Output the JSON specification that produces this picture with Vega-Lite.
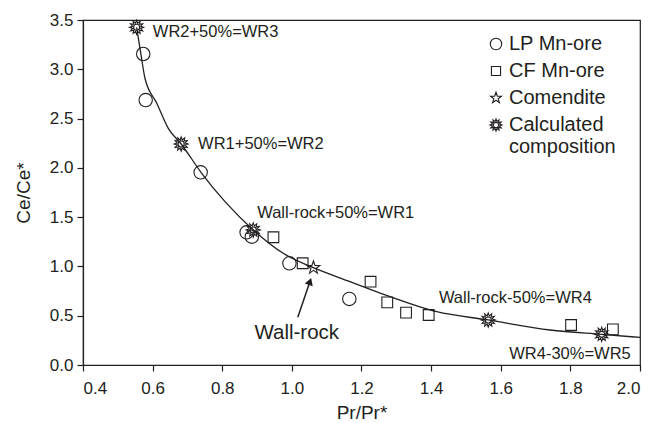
{
  "$schema": "https://vega.github.io/schema/vega-lite/v6.json",
  "width": 557,
  "height": 345,
  "autosize": {"type": "none"},
  "padding": {"left": 83, "top": 20, "right": 17, "bottom": 58},
  "background": "white",
  "config": {
    "font": "Liberation Sans",
    "view": {"stroke": "#231f20", "strokeWidth": 1.2},
    "axis": {
      "domainColor": "#231f20", "tickColor": "#231f20", "grid": false,
      "labelColor": "#231f20", "titleColor": "#231f20",
      "labelFont": "Liberation Sans", "titleFont": "Liberation Sans",
      "labelFontSize": 17, "titleFontSize": 19, "titleFontWeight": "normal",
      "tickSize": 6, "domainWidth": 1.2, "tickWidth": 1.2
    }
  },
  "datasets": {
    "pts": [
      {"x": 0.573, "y": 3.155, "type": "LP Mn-ore"},
      {"x": 0.580, "y": 2.688, "type": "LP Mn-ore"},
      {"x": 0.738, "y": 1.955, "type": "LP Mn-ore"},
      {"x": 0.870, "y": 1.346, "type": "LP Mn-ore"},
      {"x": 0.885, "y": 1.302, "type": "LP Mn-ore"},
      {"x": 0.993, "y": 1.032, "type": "LP Mn-ore"},
      {"x": 1.165, "y": 0.670, "type": "LP Mn-ore"},
      {"x": 0.947, "y": 1.296, "type": "CF Mn-ore"},
      {"x": 1.031, "y": 1.032, "type": "CF Mn-ore"},
      {"x": 1.226, "y": 0.845, "type": "CF Mn-ore"},
      {"x": 1.274, "y": 0.636, "type": "CF Mn-ore"},
      {"x": 1.328, "y": 0.531, "type": "CF Mn-ore"},
      {"x": 1.393, "y": 0.507, "type": "CF Mn-ore"},
      {"x": 1.802, "y": 0.406, "type": "CF Mn-ore"},
      {"x": 1.922, "y": 0.362, "type": "CF Mn-ore"},
      {"x": 1.062, "y": 0.987, "type": "Comendite"},
      {"x": 0.554, "y": 3.426, "type": "Calculated composition"},
      {"x": 0.682, "y": 2.242, "type": "Calculated composition"},
      {"x": 0.889, "y": 1.370, "type": "Calculated composition"},
      {"x": 1.564, "y": 0.457, "type": "Calculated composition"},
      {"x": 1.890, "y": 0.311, "type": "Calculated composition"}
    ],
    "curve": [
      {"x": 0.554, "y": 3.426}, {"x": 0.566, "y": 3.162}, {"x": 0.578, "y": 2.909},
      {"x": 0.612, "y": 2.655}, {"x": 0.645, "y": 2.401}, {"x": 0.682, "y": 2.242},
      {"x": 0.741, "y": 1.945}, {"x": 0.808, "y": 1.657}, {"x": 0.889, "y": 1.370},
      {"x": 0.975, "y": 1.133}, {"x": 1.062, "y": 0.987}, {"x": 1.167, "y": 0.845},
      {"x": 1.282, "y": 0.693}, {"x": 1.416, "y": 0.541}, {"x": 1.564, "y": 0.457},
      {"x": 1.742, "y": 0.355}, {"x": 1.890, "y": 0.311}, {"x": 2.0, "y": 0.280}
    ],
    "labels": [
      {"x": 0.781, "y": 3.378, "text": "WR2+50%=WR3", "big": false},
      {"x": 0.911, "y": 2.242, "text": "WR1+50%=WR2", "big": false},
      {"x": 1.126, "y": 1.539, "text": "Wall-rock+50%=WR1", "big": false},
      {"x": 1.642, "y": 0.680, "text": "Wall-rock-50%=WR4", "big": false},
      {"x": 1.799, "y": 0.112, "text": "WR4-30%=WR5", "big": false},
      {"x": 1.014, "y": 0.328, "text": "Wall-rock", "big": true}
    ],
    "arrow": [
      {"x": 1.017, "y": 0.484, "x2": 1.052, "y2": 0.847}
    ]
  },
  "layer": [
    {
      "data": {"name": "curve"},
      "mark": {"type": "line", "interpolate": "monotone", "color": "#231f20", "strokeWidth": 1.3},
      "encoding": {
        "x": {"field": "x", "type": "quantitative", "scale": {"domain": [0.4, 2.0], "nice": false, "zero": false},
          "axis": {"values": [0.4, 0.6, 0.8, 1.0, 1.2, 1.4, 1.6, 1.8, 2.0], "format": ".1f", "title": "Pr/Pr*", "labelPadding": 9, "titlePadding": 7}},
        "y": {"field": "y", "type": "quantitative", "scale": {"domain": [0, 3.5], "nice": false},
          "axis": {"values": [0, 0.5, 1.0, 1.5, 2.0, 2.5, 3.0, 3.5], "format": ".1f", "title": "Ce/Ce*", "labelPadding": 4, "titlePadding": 16}}
      }
    },
    {
      "data": {"name": "arrow"},
      "mark": {"type": "rule", "color": "#231f20", "strokeWidth": 1.5},
      "encoding": {
        "x": {"field": "x", "type": "quantitative"},
        "y": {"field": "y", "type": "quantitative"},
        "x2": {"field": "x2"},
        "y2": {"field": "y2"}
      }
    },
    {
      "data": {"name": "arrow"},
      "mark": {"type": "point", "shape": "triangle-up", "filled": true, "color": "#231f20", "size": 70, "angle": 19, "opacity": 1},
      "encoding": {
        "x": {"field": "x2", "type": "quantitative"},
        "y": {"field": "y2", "type": "quantitative"}
      }
    },
    {
      "data": {"name": "pts"},
      "mark": {"type": "point", "filled": false, "color": "#231f20", "strokeWidth": 1.1, "opacity": 1, "size": 180},
      "encoding": {
        "x": {"field": "x", "type": "quantitative"},
        "y": {"field": "y", "type": "quantitative"},
        "shape": {
          "field": "type", "type": "nominal",
          "scale": {
            "domain": ["LP Mn-ore", "CF Mn-ore", "Comendite", "Calculated composition"],
            "range": [
              "circle",
              "M-0.8,-0.8L0.8,-0.8L0.8,0.8L-0.8,0.8Z",
              "M0,-1L0.235,-0.324L0.951,-0.309L0.38,0.124L0.588,0.809L0,0.4L-0.588,0.809L-0.38,0.124L-0.951,-0.309L-0.235,-0.324Z",
              "M0,-1.05L0.16,-0.6L0.525,-0.909L0.44,-0.44L0.909,-0.525L0.6,-0.16L1.05,0L0.6,0.16L0.909,0.525L0.44,0.44L0.525,0.909L0.16,0.6L0,1.05L-0.16,0.6L-0.525,0.909L-0.44,0.44L-0.909,0.525L-0.6,0.16L-1.05,0L-0.6,-0.16L-0.909,-0.525L-0.44,-0.44L-0.525,-0.909L-0.16,-0.6ZM0.45,0A0.45,0.45,0,1,1,-0.45,0A0.45,0.45,0,1,1,0.45,0Z"
            ]
          },
          "legend": {
            "title": null, "orient": "none", "legendX": 403, "legendY": 14,
            "padding": 0, "labelFontSize": 20, "labelFont": "Liberation Sans", "labelColor": "#231f20",
            "symbolSize": 130, "symbolStrokeWidth": 1.1, "symbolStrokeColor": "#231f20", "symbolFillColor": "transparent",
            "labelOffset": 3, "rowPadding": 7, "labelLimit": 300,
            "labelExpr": "datum.label == 'Calculated composition' ? ['Calculated', 'composition'] : datum.label",
            "encode": {
              "labels": {
                "enter": {
                  "lineHeight": {"value": 25}
                },
                "update": {
                  "lineHeight": {"value": 25},
                  "dy": {"signal": "datum.label == 'Calculated composition' ? 12.5 : 0"}
                }
              }
            }
          }
        }
      }
    },
    {
      "data": {"name": "labels"},
      "mark": {"type": "text", "color": "#231f20", "font": "Liberation Sans", "align": "center", "baseline": "middle"},
      "encoding": {
        "x": {"field": "x", "type": "quantitative"},
        "y": {"field": "y", "type": "quantitative"},
        "text": {"field": "text"},
        "size": {"field": "big", "type": "nominal", "scale": {"domain": [false, true], "range": [16.5, 20.5]}, "legend": null}
      }
    }
  ]
}
